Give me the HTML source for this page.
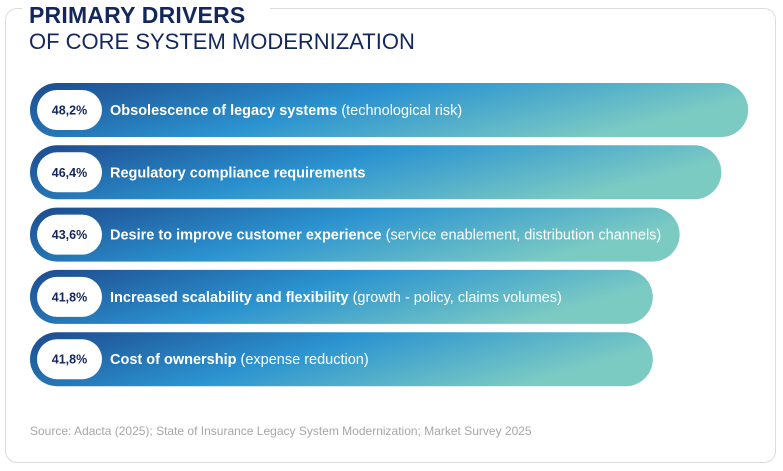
<!DOCTYPE html>
<html><head><meta charset="utf-8"><style>
body{margin:0;width:783px;height:471px;background:#fff;font-family:"Liberation Sans",sans-serif;overflow:hidden;position:relative}
.card{position:absolute;left:5px;top:8px;width:771px;height:455px;border:1.5px solid #dcdcdc;border-radius:12px;box-sizing:border-box}
.tbg{position:absolute;left:22px;top:0;width:248px;height:20px;background:#fff}
.t1{position:absolute;left:29px;top:2px;font-size:23px;font-weight:bold;color:#13275c;letter-spacing:0.2px}
.t2{position:absolute;left:29px;top:29px;font-size:22px;color:#13275c}
.src{position:absolute;left:30px;top:424px;font-size:12px;color:#a6a6a6}
</style></head><body>
<div class="card"></div>
<div class="tbg"></div>
<div class="t1">PRIMARY DRIVERS</div>
<div class="t2">OF CORE SYSTEM MODERNIZATION</div>
<svg id="chart" width="783" height="471" style="position:absolute;left:0;top:0">
<defs><linearGradient id="g" x1="0" y1="0" x2="1" y2="0.3">
<stop offset="0" stop-color="#1d4a8e"/><stop offset="0.5" stop-color="#2b93d0"/><stop offset="1" stop-color="#7ccbc3"/></linearGradient></defs>
</svg>
<div class="src">Source: Adacta (2025); State of Insurance Legacy System Modernization; Market Survey 2025</div>
<script>
const values=[48.2,46.4,43.6,41.8,41.8];
const valueLabels=["48,2%","46,4%","43,6%","41,8%","41,8%"];
const boldLabels=["Obsolescence of legacy systems","Regulatory compliance requirements","Desire to improve customer experience","Increased scalability and flexibility","Cost of ownership"];
const lightLabels=["(technological risk)","","(service enablement, distribution channels)","(growth - policy, claims volumes)","(expense reduction)"];
const NS="http://www.w3.org/2000/svg";
const svg=document.getElementById('chart');
const x0=30, scale=14.9, y0=83, step=62.3, h=54;
const xw=v=>v*scale;
const yb=i=>y0+i*step;
function mk(t,a){const e=document.createElementNS(NS,t);for(const k in a)e.setAttribute(k,a[k]);svg.appendChild(e);return e;}
values.forEach((v,i)=>{
  const y=yb(i);
  const r=mk('rect',{x:x0,y:y,width:xw(v),height:h,rx:h/2,fill:'url(#g)'});
  
  
  const p=mk('rect',{x:x0+7,y:y+7,width:65,height:h-14,rx:(h-14)/2,fill:'#fff'});
  
  
  const vt=mk('text',{x:x0+39.5,y:y+h/2+4.5,'text-anchor':'middle','font-size':'12.5','font-weight':'bold',fill:'#13275c','font-family':'Liberation Sans, sans-serif'});
  vt.textContent=valueLabels[i];
  
  
  const t=mk('text',{x:x0+80,y:y+h/2+5,'font-size':'14.5',fill:'#fff','font-family':'Liberation Sans, sans-serif'});
  
  
  const b=document.createElementNS(NS,'tspan');b.setAttribute('font-weight','bold');b.textContent=boldLabels[i];t.appendChild(b);
  if(lightLabels[i]){const l=document.createElementNS(NS,'tspan');l.textContent=' '+lightLabels[i];t.appendChild(l);}
});
</script>
</body></html>
